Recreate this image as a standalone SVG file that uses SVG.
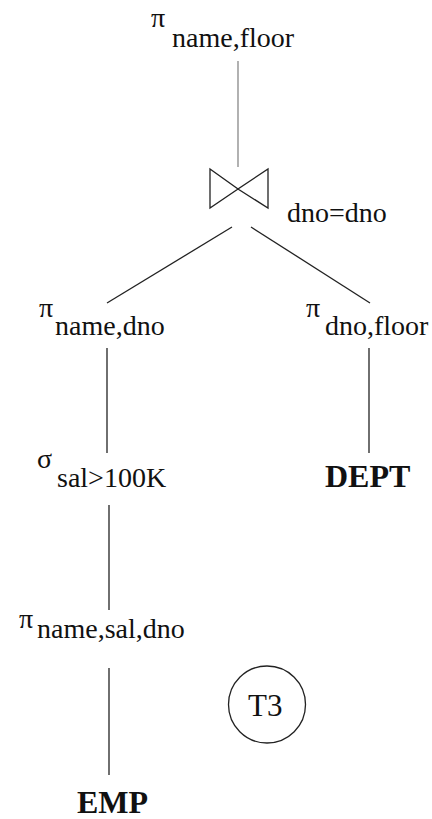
<svg xmlns="http://www.w3.org/2000/svg" width="432" height="819" viewBox="0 0 432 819">
<rect width="432" height="819" fill="#fff"/>
<g id="connectors" stroke="#222" stroke-width="1.3" fill="none">
<line x1="238" y1="61" x2="238" y2="167" stroke="#888"/>
<line x1="232" y1="227" x2="107" y2="303"/>
<line x1="251" y1="227" x2="370" y2="303"/>
<line x1="107" y1="348" x2="107" y2="453"/>
<line x1="369" y1="348" x2="369" y2="453"/>
<line x1="109" y1="505" x2="109" y2="610"/>
<line x1="109" y1="668" x2="109" y2="775"/>
</g>
<g font-family="Times New Roman, Liberation Serif, serif" font-size="28" fill="#111">
<g id="proj_top">
<text x="172" y="47">name,floor</text>
<text x="151" y="27">π</text>
</g>
<g id="join">
<path d="M210,169 L210,208 L238,189 Z M268,169 L268,208 L238,189 Z" fill="none" stroke="#222" stroke-width="1.3"/>
<text x="287" y="222">dno=dno</text>
</g>
<g id="proj_left">
<text x="55" y="335">name,dno</text>
<text x="39" y="317">π</text>
</g>
<g id="proj_right">
<text x="325" y="335">dno,floor</text>
<text x="306" y="317">π</text>
</g>
<g id="select">
<text x="57" y="487">sal&gt;100K</text>
<text x="37" y="468">σ</text>
</g>
<g id="dept">
<text x="325" y="487" font-size="32" font-weight="bold">DEPT</text>
</g>
<g id="proj_emp">
<text x="37" y="638">name,sal,dno</text>
<text x="19" y="628">π</text>
</g>
<g id="emp">
<text x="77" y="813" font-size="32" font-weight="bold">EMP</text>
</g>
<g id="t3">
<circle cx="267" cy="704.5" r="38.5" fill="none" stroke="#222" stroke-width="1.3"/>
<text x="248" y="716" font-size="31">T3</text>
</g>
</g>
</svg>
